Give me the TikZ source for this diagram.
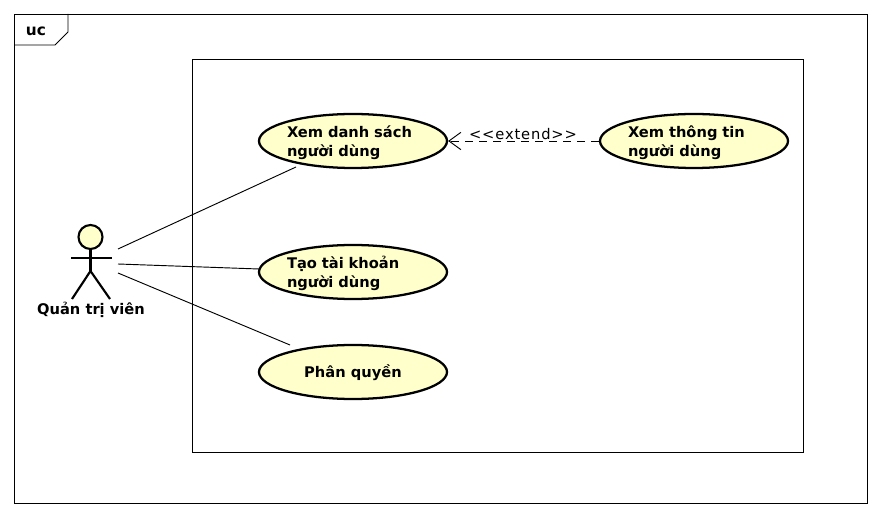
\documentclass[tikz,border=0pt]{standalone}
\usepackage{fontspec}
\setmainfont{DejaVu Sans}
\usetikzlibrary{shapes.geometric, arrows.meta, positioning}
\definecolor{usecasefill}{RGB}{255,255,204}
\tikzset{
  usecase/.style={draw, ellipse, line width=1.7pt, fill=usecasefill, minimum width=141pt, minimum height=40.5pt, inner sep=0pt, text height=10.5pt, text depth=1.5pt, font=\fontsize{11}{14.25}\selectfont\bfseries},
  twoline/.style={usecase, text width=99pt, align=left, text height=11.25pt, text depth=15.75pt},
  assoc/.style={line width=0.7pt},
  limb/.style={line width=1.6pt},
}

\begin{document}
\begin{tikzpicture}[x=0.75pt,y=-0.75pt]
  \useasboundingbox (0,0) rectangle (881,516);
  % Khung ngoai va nhan uc
  \draw[line width=0.7pt] (14,14) rectangle (867,503);
  \draw[line width=0.7pt] (14,45) -- (55,45) -- (68,32) -- (68,14);
  \node[font=\fontsize{11.5}{14}\selectfont\bfseries] (frameLabel) at (36,31) {uc};
  \draw[line width=0.6pt] (192,59) rectangle (803,452);

  % Cac use case
  \node[twoline] (ucList) at (353,141) {Xem danh sách\\người dùng};
  \node[twoline] (ucInfo) at (694,141) {Xem thông tin\\người dùng};
  \node[twoline] (ucCreate) at (353,272) {Tạo tài khoản\\người dùng};
  \node[usecase] (ucRole) at (353,372) {Phân quyền};

  % Tac nhan
  \node[draw, circle, limb, fill=usecasefill, minimum size=18pt, inner sep=0pt] (head) at (90.5,237) {};
  \coordinate (hip) at (90.5,271);
  \coordinate (armL) at (71,258);
  \coordinate (armR) at (112,258);
  \coordinate (footL) at (72,299);
  \coordinate (footR) at (110,299);
  \draw[limb] (head) -- (hip);
  \draw[limb] (armL) -- (armR);
  \draw[limb] (footL) -- (hip) -- (footR);
  \node[font=\fontsize{11}{14}\selectfont\bfseries] (actorLabel) at (91,310) {Quản trị viên};

  % Cac duong noi
  \coordinate (a1) at (118,249);
  \coordinate (a2) at (118,264);
  \coordinate (a3) at (118,273);
  \coordinate (b1) at (296,167);
  \coordinate (b2) at (259,269);
  \coordinate (b3) at (290,345);
  \draw[assoc] (a1) -- (b1);
  \draw[assoc] (a2) -- (b2);
  \draw[assoc] (a3) -- (b3);
  \draw[assoc, dashed, dash pattern=on 6pt off 4.5pt, -{Straight Barb[length=9pt, width=13pt, line width=0.7pt]}] (ucInfo) -- (ucList);
  \node[font=\fontsize{11}{13}\selectfont\addfontfeature{LetterSpace=6}] (extendLabel) at (523,134) {{<}{<}extend{>}{>}};
\end{tikzpicture}
\end{document}
